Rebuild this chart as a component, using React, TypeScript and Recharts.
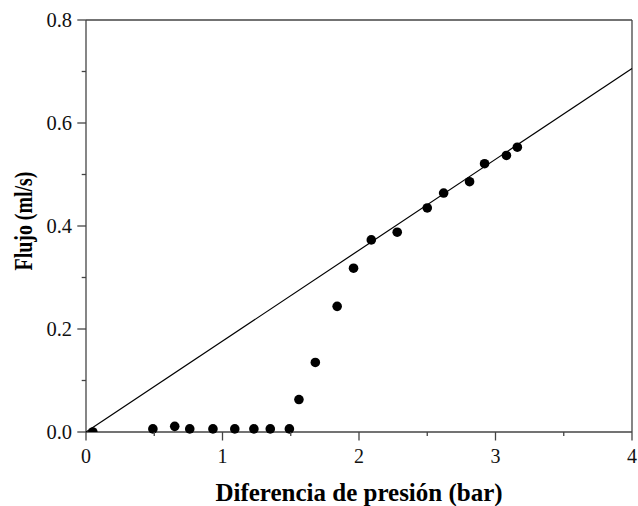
import { ComposedChart, Scatter, XAxis, YAxis, ReferenceLine, Label } from 'recharts';

const pressure = [0.05, 0.49, 0.65, 0.76, 0.93, 1.09, 1.23, 1.35, 1.49, 1.56, 1.68, 1.84, 1.96, 2.09, 2.28, 2.5, 2.62, 2.81, 2.92, 3.08, 3.16];
const flow = [0.0, 0.006, 0.011, 0.006, 0.006, 0.006, 0.006, 0.006, 0.006, 0.063, 0.135, 0.244, 0.318, 0.373, 0.388, 0.435, 0.464, 0.486, 0.521, 0.537, 0.553];

const fitX = [0, 4];
const fitY = [0, 0.706];

const xTicks = [0, 0.5, 1, 1.5, 2, 2.5, 3, 3.5, 4];
const yTicks = [0, 0.1, 0.2, 0.3, 0.4, 0.5, 0.6, 0.7, 0.8];

const points = pressure.map((x, i) => ({ x, y: flow[i] }));
const fitLine = fitX.map((x, i) => ({ x, y: fitY[i] }));

const AXIS = '#444';
const FONT = 'Liberation Serif, DejaVu Serif, serif';

const XTick = (props: any) => {
  const { x, y, payload } = props;
  const major = Number.isInteger(payload.value);
  return (
    <g>
      <line x1={x} y1={y} x2={x} y2={y + (major ? 8.5 : 4)} stroke={AXIS} strokeWidth={1.3} />
      {major && (
        <text x={x} y={y + 30.5} textAnchor="middle" style={{ fontSize: 20, fontFamily: FONT, fill: '#111' }}>
          {payload.value}
        </text>
      )}
    </g>
  );
};

const YTick = (props: any) => {
  const { x, y, payload } = props;
  const major = Math.round(payload.value * 10) % 2 === 0;
  return (
    <g>
      <line x1={x} y1={y} x2={x - (major ? 8.7 : 4.3)} y2={y} stroke={AXIS} strokeWidth={1.3} />
      {major && (
        <text x={x - 14} y={y + 6.5} textAnchor="end" style={{ fontSize: 20.5, fontFamily: FONT, fill: '#111' }}>
          {payload.value.toFixed(1)}
        </text>
      )}
    </g>
  );
};

const Dot = (props: any) => {
  const { cx, cy, payload } = props;
  if (payload.y === 0) {
    // first point sits on the axis, only the upper half shows
    return <path d={`M${cx - 4.8},${cy} A4.8,4.8 0 0 1 ${cx + 4.8},${cy} Z`} fill="#000" />;
  }
  return <circle cx={cx} cy={cy} r={4.8} fill="#000" />;
};

const YTitle = (props: any) => {
  const { viewBox } = props;
  const cy = viewBox.y + viewBox.height / 2 - 5;
  return (
    <text
      x={32}
      y={cy}
      transform={`rotate(-90, 32, ${cy})`}
      textAnchor="middle"
      textLength={99}
      lengthAdjust="spacingAndGlyphs"
      style={{ fontSize: 25, fontWeight: 'bold', fontFamily: FONT, fill: '#000' }}
    >
      Flujo (ml/s)
    </text>
  );
};

export default function App() {
  return (
    <div style={{ position: 'absolute', left: 0, top: 0, background: '#fff', fontFamily: FONT }}>
      <ComposedChart width={638} height={506} margin={{ top: 20, right: 6, left: 0, bottom: 0 }}>
        <XAxis
          dataKey="x"
          type="number"
          domain={[0, 4]}
          ticks={xTicks}
          interval={0}
          height={74}
          tickSize={0}
          tickMargin={0}
          tick={<XTick />}
          axisLine={{ stroke: AXIS, strokeWidth: 1.3 }}
        >
          <Label
            value="Diferencia de presión (bar)"
            position="insideBottom"
            offset={5}
            style={{ fontSize: 25, fontWeight: 'bold', fontFamily: FONT, fill: '#000' }}
          />
        </XAxis>
        <YAxis
          dataKey="y"
          type="number"
          domain={[0, 0.8]}
          ticks={yTicks}
          interval={0}
          width={86}
          tickSize={0}
          tickMargin={0}
          tick={<YTick />}
          axisLine={{ stroke: AXIS, strokeWidth: 1.3 }}
        >
          <Label content={<YTitle />} />
        </YAxis>
        <ReferenceLine y={0.8} stroke={AXIS} strokeWidth={1.3} />
        <ReferenceLine x={4} stroke={AXIS} strokeWidth={1.3} />
        <Scatter
          data={fitLine}
          line={{ stroke: '#000', strokeWidth: 1.2 }}
          shape={() => null}
          isAnimationActive={false}
        />
        <Scatter data={points} shape={<Dot />} isAnimationActive={false} />
      </ComposedChart>
    </div>
  );
}
